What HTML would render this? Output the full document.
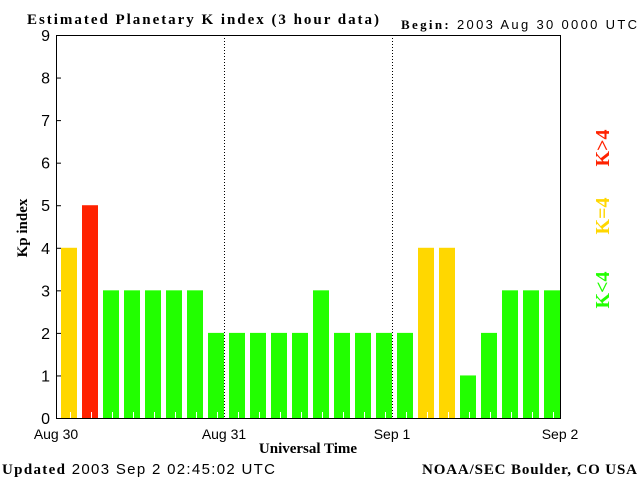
<!DOCTYPE html>
<html><head><meta charset="utf-8"><style>
body{margin:0;background:#fff}
svg text{font-family:"Liberation Sans",sans-serif}
.s{font-family:"Liberation Serif",serif;font-weight:bold}
</style></head><body>
<svg id="c" width="640" height="480" xmlns="http://www.w3.org/2000/svg">
<text class="s" x="27" y="24" font-size="15" textLength="352" lengthAdjust="spacing">Estimated Planetary K index (3 hour data)</text>
<text x="401" y="29" font-size="13" textLength="236" lengthAdjust="spacing"><tspan class="s">Begin:</tspan>  2003 Aug 30 0000 UTC</text>
<text class="s" x="27" y="228" font-size="15" transform="rotate(-90 27 228)" text-anchor="middle">Kp index</text>
<text class="s" x="308" y="453" font-size="15" text-anchor="middle">Universal Time</text>
<text x="2" y="474" font-size="15" textLength="273" lengthAdjust="spacing"><tspan class="s">Updated</tspan> 2003 Sep  2 02:45:02 UTC</text>
<text class="s" x="422" y="474" font-size="15" textLength="215" lengthAdjust="spacing">NOAA/SEC Boulder, CO USA</text>
<text class="s" x="609" y="148" font-size="20" fill="#ff2200" transform="rotate(-90 609 148)" text-anchor="middle">K&gt;4</text>
<text class="s" x="609" y="216" font-size="20" fill="#ffd700" transform="rotate(-90 609 216)" text-anchor="middle">K=4</text>
<text class="s" x="609" y="290" font-size="20" fill="#22ff00" transform="rotate(-90 609 290)" text-anchor="middle">K&lt;4</text>
<g id="plot"></g>
</svg>
<script>
const kpValues=[4,5,3,3,3,3,3,2, 2,2,2,2,3,2,2,2, 2,4,4,1,2,3,3,3];
const dayLabels=["Aug 30","Aug 31","Sep 1","Sep 2"];
const yTicks=[0,1,2,3,4,5,6,7,8,9];
const X0=56,X1=560,Y0=418,Y1=35;
const ns="http://www.w3.org/2000/svg";
const g=document.getElementById('plot');
const xs=i=>X0+(X1-X0)*i/kpValues.length;
const ys=v=>Y0-(Y0-Y1)*v/9;
function mk(t,a){const e=document.createElementNS(ns,t);for(const k in a)e.setAttribute(k,a[k]);g.appendChild(e);return e;}
const bw=(X1-X0)/kpValues.length;
kpValues.forEach((v,i)=>{
 const col=v>4?"#ff2200":v==4?"#ffd700":"#22ff00";
 const r=mk('rect',{x:xs(i)+5,y:ys(v),width:bw-5,height:Y0-ys(v),fill:col});
 
 
 const t=mk('line',{x1:xs(i)+14.5,x2:xs(i)+14.5,y1:Y0-6,y2:Y0,stroke:'#fff'});
 
 
});
for(let d=1;d<dayLabels.length-1;d++){
 const x=xs(d*8)+0.5;
 const l=mk('line',{x1:x,x2:x,y1:Y1,y2:Y0,stroke:'#000','stroke-dasharray':'1 2'});
 
 
}
dayLabels.forEach((s,d)=>{
 const t=mk('text',{x:xs(d*8),y:439,'font-size':14,'text-anchor':'middle'});t.textContent=s;
 
 
});
yTicks.forEach(v=>{
 const y=ys(v);
 const l=mk('line',{x1:X0,x2:X0+5,y1:y+0.5,y2:y+0.5,stroke:'#000'});
 
 
 const t=mk('text',{x:50,y:y+6,'font-size':16,'text-anchor':'end'});t.textContent=v;
 
 
});
const f=mk('rect',{x:X0+0.5,y:Y1+0.5,width:X1-X0,height:Y0-Y1,fill:'none',stroke:'#000'});


</script>
</body></html>
